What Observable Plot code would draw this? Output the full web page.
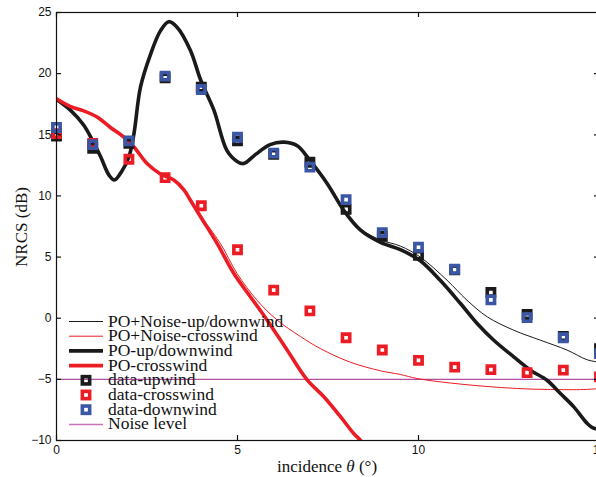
<!DOCTYPE html>
<html><head><meta charset="utf-8">
<script src="https://cdn.jsdelivr.net/npm/d3@7"></script>
<script src="https://cdn.jsdelivr.net/npm/@observablehq/plot@0.6"></script>
<style>
html,body{margin:0;padding:0;overflow:hidden;background:#fff;}
#chart svg{overflow:hidden;display:block}
</style></head><body><div id="chart"></div>
<script>
// ---- data ----
const xTicks = [0, 5, 10, 15];
const yTicks = [-10, -5, 0, 5, 10, 15, 20, 25];
const theta = [0,1,2,3,4,5,6,7,8,9,10,11,12,13,14,15];
const dataUpwind    = [14.9, 13.9, 14.3, 19.65, 18.9, 14.5, 13.4, 12.75, 8.9, 6.7, 5.15, 3.95, 2.1, 0.3, -1.5, -2.5];
const dataCrosswind = [15.1, 14.3, 13.0, 11.5, 9.2, 5.6, 2.3, 0.6, -1.6, -2.6, -3.45, -4.0, -4.2, -4.45, -4.25, -4.8];
const dataDownwind  = [15.6, 14.2, 14.5, 19.8, 18.7, 14.8, 13.5, 12.35, 9.7, 7.0, 5.8, 4.0, 1.5, 0.05, -1.6, -2.9];
const noiseLevel = -5;

const poUpX = [0,0.39,0.75,1.0,1.22,1.45,1.6,1.8,2.0,2.14,2.32,2.6,2.87,3.1,3.33,3.7,3.98,4.35,4.71,5.0,5.17,5.5,5.9,6.28,6.65,7.0,7.48,7.94,8.4,8.95,9.5,10.05,10.6,11.16,11.62,12.08,12.63,13.09,13.55,13.92,14.29,14.66,14.84,15.0];
const poUpY = [17.9,17.0,15.8,14.5,13.2,11.7,11.3,12.0,13.2,15.1,18.9,21.6,23.5,24.25,23.8,21.9,19.5,17.0,13.7,12.8,12.65,13.4,14.2,14.4,14.1,12.9,11.0,8.8,7.2,6.2,5.6,4.7,3.1,1.2,-0.43,-1.8,-3.16,-4.25,-5.07,-6.16,-7.25,-8.6,-9.0,-9.0];

const pnUpX = [0,0.39,0.75,1.0,1.22,1.45,1.6,1.8,2.0,2.14,2.32,2.6,2.87,3.1,3.33,3.7,3.98,4.35,4.71,5.0,5.17,5.5,5.9,6.28,6.65,7.0,7.48,7.94,8.4,8.95,9.5,10.05,10.79,11.34,11.9,12.63,13.37,14.1,14.66,15.0];
const pnUpY = [17.9,17.0,15.8,14.5,13.2,11.7,11.3,12.0,13.2,15.1,18.9,21.6,23.5,24.25,23.8,21.9,19.5,17.0,13.7,12.8,12.65,13.4,14.2,14.4,14.1,12.9,11.0,8.85,7.3,6.4,5.9,5.0,3.1,1.47,0.11,-0.98,-1.8,-2.6,-3.4,-3.6];

const poCrossX = [0,0.39,0.75,1.12,1.49,1.86,2.14,2.5,2.87,3.24,3.52,3.7,3.98,4.44,4.9,5.36,5.82,6.37,6.93,7.38,7.85,8.21,8.4,8.5];
const poCrossY = [17.95,17.3,16.95,16.45,15.6,14.8,14.0,12.65,11.8,11.3,10.5,9.65,8.3,6.1,3.65,1.74,-0.16,-2.6,-5.07,-6.4,-8.07,-9.43,-10.0,-10.4];

const pnCrossX = [0,0.39,0.75,1.12,1.49,1.86,2.14,2.5,2.87,3.24,3.52,3.7,3.98,4.53,4.99,5.54,6.1,6.74,7.3,8.12,8.95,9.5,9.96,10.88,11.8,12.73,13.65,14.57,15.0];
const pnCrossY = [17.95,17.3,16.95,16.45,15.6,14.8,14.0,12.65,11.8,11.3,10.5,9.65,8.4,6.1,3.65,1.47,-0.16,-1.5,-2.5,-3.6,-4.3,-4.6,-4.93,-5.3,-5.56,-5.75,-5.83,-5.83,-5.75];

const legendLabels = ["PO+Noise-up/downwind","PO+Noise-crosswind","PO-up/downwind","PO-crosswind","data-upwind","data-crosswind","data-downwind","Noise level"];

// ---- styles ----
const BLACK = "#1a1a1a", RED = "#ec1c24", BLUE = "#3a56a5", PURPLE = "#b04f9f";
const pts = (xs, ys) => xs.map((x, i) => ({x, y: ys[i]}));
const dots = (ys) => theta.map((x, i) => ({x, y: ys[i]}));
const SQ = {r: 4.1, symbol: "square", fill: "none", strokeWidth: 3.6};

const plot = Plot.plot({
  width: 596, height: 477,
  marginLeft: 56, marginRight: -3, marginTop: 12, marginBottom: 37,
  x: {domain: [0, 15]},
  y: {domain: [-10, 25]},
  style: {fontFamily: "'Liberation Sans', Arial, sans-serif", fontSize: "12px", color: "#111", background: "#fff", overflow: "hidden"},
  marks: [
    Plot.ruleY([noiseLevel], {stroke: PURPLE, strokeWidth: 1.2}),
    Plot.line(pts(pnUpX, pnUpY), {x: "x", y: "y", stroke: BLACK, strokeWidth: 1, curve: "catmull-rom", clip: true}),
    Plot.line(pts(pnCrossX, pnCrossY), {x: "x", y: "y", stroke: RED, strokeWidth: 1, curve: "catmull-rom", clip: true}),
    Plot.line(pts(poUpX, poUpY), {x: "x", y: "y", stroke: BLACK, strokeWidth: 3.6, curve: "catmull-rom", clip: true}),
    Plot.line(pts(poCrossX, poCrossY), {x: "x", y: "y", stroke: RED, strokeWidth: 3.6, curve: "catmull-rom", clip: true}),
    Plot.dot(dots(dataUpwind), {x: "x", y: "y", stroke: BLACK, ...SQ}),
    Plot.dot(dots(dataCrosswind), {x: "x", y: "y", stroke: RED, ...SQ}),
    Plot.dot(dots(dataDownwind), {x: "x", y: "y", stroke: BLUE, ...SQ}),
    Plot.frame({stroke: "#111", strokeWidth: 1.2}),
    Plot.tickX(xTicks, {x: d => d, insetTop: 423, stroke: "#111", strokeWidth: 1.2}),
    Plot.tickX(xTicks, {x: d => d, insetBottom: 423, stroke: "#111", strokeWidth: 1.2}),
    Plot.tickY(yTicks, {y: d => d, insetRight: 538, stroke: "#111", strokeWidth: 1.2}),
    Plot.tickY(yTicks, {y: d => d, insetLeft: 538, stroke: "#111", strokeWidth: 1.2}),
    Plot.axisX({ticks: xTicks, tickSize: 0, tickPadding: 5, label: null}),
    Plot.axisY({ticks: yTicks, tickSize: 0, tickPadding: 5, label: null})
  ]
});
document.getElementById("chart").appendChild(plot);

// ---- axis labels & legend ----
const svg = d3.select(plot);
const SERIF = "'Liberation Serif', 'Times New Roman', serif";
const xl = svg.append("text").attr("x", 327).attr("y", 471.5).attr("text-anchor", "middle")
  .style("font-family", SERIF).style("font-size", "17px").attr("fill", "#111");
xl.append("tspan").text("incidence ");
xl.append("tspan").style("font-style", "italic").text("θ");
xl.append("tspan").text(" (°)");
svg.append("text").attr("transform", "translate(27,227) rotate(-90)").attr("text-anchor", "middle")
  .style("font-family", SERIF).style("font-size", "17px").attr("fill", "#111").text("NRCS (dB)");

const legStyle = [
  {type: "line", color: BLACK, w: 1},
  {type: "line", color: RED, w: 1},
  {type: "line", color: BLACK, w: 3.6},
  {type: "line", color: RED, w: 3.6},
  {type: "dot", color: BLACK},
  {type: "dot", color: RED},
  {type: "dot", color: BLUE},
  {type: "line", color: "#c873b8", w: 1.5}
];
const leg = svg.append("g");
legendLabels.forEach((lab, i) => {
  const cy = 321.5 + i * 14.7;
  const s = legStyle[i];
  if (s.type === "line") {
    leg.append("line").attr("x1", 69).attr("x2", 103).attr("y1", cy).attr("y2", cy)
      .attr("stroke", s.color).attr("stroke-width", s.w);
  } else {
    leg.append("rect").attr("x", 86 - 3.65).attr("y", cy - 3.65).attr("width", 7.3).attr("height", 7.3)
      .attr("fill", "none").attr("stroke", s.color).attr("stroke-width", 3.6);
  }
  leg.append("text").attr("x", 108).attr("y", cy + 5).attr("text-anchor", "start")
    .style("font-family", SERIF).style("font-size", "17.5px").attr("fill", "#111").text(lab);
});
</script></body></html>
